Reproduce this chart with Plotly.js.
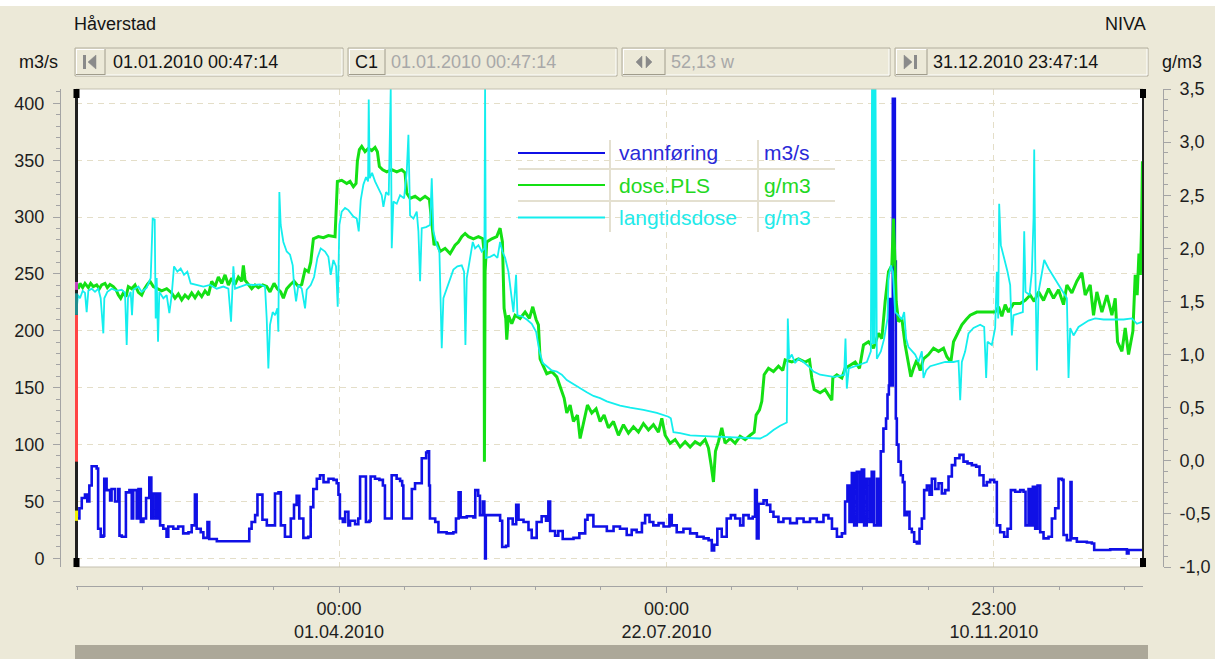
<!DOCTYPE html>
<html><head><meta charset="utf-8">
<script src="https://cdn.plot.ly/plotly-3.0.1.min.js"></script>
<style>html,body{margin:0;padding:0;background:#ECE9D8;}#chart{width:1215px;height:659px;}</style>
</head><body><div id="chart"></div>
<script>
// ---- data: [day of year 2010 (fractional), value] ----
const vannforing = [[0.05,35],[1.2,44],[2.0,53],[3.1,56],[3.9,50],[4.6,64],[5.4,81],[6.5,81],[7.1,79],[7.6,26],[8.5,19],[9.4,20],[9.7,70],[10.5,60],[11.7,51],[12.2,61],[13.4,50],[14.5,61],[14.9,20],[15.7,19],[16.8,19],[17.1,58],[18.3,60],[19.1,35],[19.6,60],[20.8,35],[21.4,61],[22.2,32],[23.1,35],[24.0,53],[25.1,71],[25.8,35],[26.5,57],[27.4,35],[28.1,57],[28.8,29],[29.9,26],[31.0,19],[31.6,28],[33.3,26],[35.0,28],[36.7,22],[38.5,23],[39.6,29],[40.7,56],[41.3,26],[42.7,23],[43.6,18],[45.0,32],[45.6,17],[47.0,17],[48.2,15],[58.4,15],[59.3,26],[60.1,32],[61.3,38],[62.1,56],[63.2,56],[63.8,34],[65.3,29],[67.3,29],[68.1,57],[69.3,58],[70.1,29],[71.5,19],[72.7,19],[73.5,35],[74.6,47],[75.5,55],[76.4,35],[77.8,18],[79.5,19],[80.3,45],[81.2,61],[82.4,70],[83.5,73],[84.7,67],[86.4,70],[88.1,69],[89.2,66],[89.8,56],[90.3,35],[91.3,32],[92.1,41],[93.2,29],
[93.77,33],[95.5,30],[96.6,35],[97.2,72],[98.3,72],[99.2,32],[100.4,33],[100.8,72],[102.3,70],[103.8,69],[105.0,64],[105.7,35],[107.5,35],[108.0,73],[109.7,70],[110.9,68],[111.6,64],[112.0,35],[114.3,35],[114.9,61],[116.0,66],[117.7,66],[118.3,88],[119.8,93],[120.3,94],[120.8,64],[121.1,35],[122.9,32],[124.0,23],[126.8,22],[129.1,23],[130.0,35],[130.9,58],[131.6,36],[133.7,37],[135.96,36],[136.6,60],[137.6,55],[138.2,38],[139.2,50],[139.7,38],[139.96,0],[140.2,38],[141.7,38],[143.9,38],[145.1,33],[145.8,10],[147.1,11],[147.9,35],[149.4,30],[150.6,47],[151.4,34],[153.1,32],[154.8,25],[155.9,18],[157.6,32],[159.3,37],[160.8,33],[161.6,50],[162.2,24],[163.9,20],[165.0,24],[166.5,17],[170.2,18],[172.2,22],[174.2,34],[175.0,38],[177.0,28],[179.3,28],[181.6,24],[183.9,28],[186.1,26],
[186.7,26],[188.4,20.5],[190.1,25],[191.8,23],[193.6,31],[194.7,38],[196.2,32],[197.5,29],[199.3,31],[201.0,28],[203.0,38],[203.8,29],[205.5,23],[207.8,26],[210.1,22],[212.4,19],[214.7,17.6],[216.4,16],[217.5,7],[218.3,12],[219.4,26],[220.9,19],[222.6,35],[224.0,38],[225.5,35],[227.2,29],[228.3,38],[230.1,35],[231.5,36.6],[232.3,60],[232.9,17.6],[233.5,48],[235.2,51],[236.3,47],[237.5,41],[238.6,36.6],[240.3,32],[242.0,35],[244.3,31],[246.6,35],[248.9,32],[251.1,35],[253.4,32],[255.7,38],[257.4,35],[258.6,26],[260.3,19],[262.0,22],[263.1,50],[263.9,64],[264.6,32],[265.4,75],[266.2,29],[267.1,76],[268.0,32],[268.8,78],[269.6,29],[270.5,70],[271.4,32],[272.2,76],[273.0,29],[274.0,70],[274.6,29],[275.3,94],[276.2,114],
[277.1,123],[277.6,144],[278.06,152],[278.28,228],[278.74,211],[279.08,152],[279.42,404],[279.77,404],[280.11,261],[280.45,123],[280.79,100],[281.36,85],[282.16,73],[282.84,67],[283.41,38],[284.21,41],[285.12,26],[285.92,23],[286.72,14.6],[287.63,13],[288.55,26],[289.35,35],[290.14,60],[291.06,64],[291.97,56],[292.77,70],[293.91,61],[295.05,66],[296.19,57],[297.33,60],[298.47,72],[299.61,82],[300.75,88],[302.23,91],[303.6,85],[304.97,83.5],[306.45,82],[307.93,80.6],[309.07,73],[310.44,64],[311.58,67],[312.72,69],[314.09,67],[315.0,29],[316.14,23],[317.51,19],[318.65,26],[319.79,60],[321.28,58.5],[322.99,60],[324.13,58.5],[324.81,29],[325.84,61],[326.63,29],[327.32,63],[328.12,26],[328.92,64],[329.83,23],[330.97,17.6],[332.68,19],[333.82,35],[334.96,44],[336.1,70],[337.24,69],[337.81,20.5],[338.95,16],[339.86,16],[340.2,67],[340.55,17.6],[342.37,14.6],[345.79,14],[347.5,13],[348.3,7.3],[353.78,7.9],[359.48,4.4],[360.05,7.3],[364.95,7.3]];

const dosePLS = [[0.05,1.655],[0.83,1.62],[1.40,1.67],[2.31,1.63],[3.11,1.67],[4.25,1.63],[5.05,1.67],[5.96,1.64],[7.10,1.655],[8.01,1.62],[8.81,1.655],[9.95,1.67],[10.75,1.63],[11.66,1.66],[12.80,1.64],[13.72,1.61],[14.52,1.56],[15.31,1.53],[16.23,1.58],[17.14,1.545],[17.94,1.64],[19.08,1.62],[20.22,1.655],[21.36,1.585],[22.50,1.56],[23.30,1.61],[24.44,1.66],[25.35,1.69],[26.49,1.64],[27.86,1.62],[29.34,1.60],[31.05,1.62],[32.76,1.58],[33.90,1.53],[35.04,1.57],[36.18,1.515],[37.32,1.56],[38.46,1.53],[39.60,1.58],[40.74,1.535],[41.88,1.585],[43.02,1.545],[44.17,1.60],[45.31,1.56],[46.45,1.69],[47.59,1.64],[48.73,1.73],[49.87,1.67],[51.01,1.75],[52.15,1.655],[53.29,1.72],[54.43,1.66],[55.57,1.73],[56.71,1.69],[57.28,1.84],[57.85,1.70],[58.99,1.655],[60.13,1.62],[61.27,1.655],[62.41,1.63],[63.89,1.655],[65.26,1.64],[66.40,1.59],[67.77,1.67],[68.91,1.62],[70.05,1.59],[70.96,1.53],[72.10,1.62],[73.24,1.655],[74.61,1.69],[76.10,1.64],[77.24,1.66],[78.38,1.80],[79.52,1.78],[80.32,1.87],[81.23,2.09],[82.94,2.11],[84.65,2.10],[86.36,2.12],[88.64,2.11],[89.44,2.63],[90.92,2.64],[92.63,2.61],
[93.77,2.63],[94.91,2.58],[95.82,2.61],[96.28,2.82],[96.96,2.93],[97.76,2.96],[98.90,2.91],[100.04,2.94],[101.18,2.92],[102.32,2.95],[103.12,2.91],[103.80,2.77],[104.95,2.74],[106.32,2.72],[108.03,2.74],[109.74,2.72],[111.45,2.74],[112.59,2.71],[113.16,2.52],[114.30,2.47],[116.01,2.49],[117.72,2.455],[119.43,2.49],[120.91,2.46],[121.82,2.22],[122.51,2.03],[123.42,2.06],[124.56,1.97],[126.27,2.00],[127.98,1.95],[129.69,2.03],[130.83,2.06],[131.97,2.11],[133.12,2.14],[134.26,2.11],[135.97,2.09],[137.68,2.11],[139.16,2.09],[139.62,1.97],[139.73,-0.01],[139.96,1.78],[140.53,2.06],[142.24,2.09],[143.95,2.11],[145.09,2.19],[145.89,2.06],[146.46,1.435],[147.03,1.34],[147.37,1.14],[147.94,1.37],[149.08,1.29],[150.22,1.37],[151.93,1.34],[153.64,1.40],[155.12,1.34],[156.26,1.45],[157.40,1.33],[158.20,1.28],[158.77,0.96],[159.68,0.90],[161.05,0.82],[162.76,0.84],[164.48,0.79],[165.62,0.70],[166.99,0.59],[167.90,0.45],[169.04,0.525],[170.18,0.37],[171.55,0.43],[172.46,0.21],[173.60,0.34],[174.97,0.525],[176.45,0.45],[177.93,0.49],[179.30,0.37],[180.67,0.43],[182.15,0.31],[183.86,0.37],[185.57,0.24],
[187.28,0.34],[188.99,0.26],[190.70,0.32],[192.41,0.27],[194.12,0.35],[195.83,0.29],[197.54,0.34],[199.26,0.27],[200.40,0.40],[201.54,0.24],[203.25,0.165],[204.96,0.20],[206.67,0.13],[208.38,0.18],[210.09,0.13],[211.80,0.18],[213.51,0.15],[215.22,0.20],[216.36,0.12],[217.27,-0.04],[218.07,-0.20],[218.76,0.09],[219.78,0.18],[220.92,0.31],[222.06,0.165],[223.77,0.21],[225.48,0.165],[227.19,0.23],[228.91,0.20],[230.62,0.24],[231.99,0.27],[232.67,0.43],[233.81,0.48],[234.61,0.56],[235.41,0.81],[236.89,0.87],[238.60,0.84],[240.31,0.89],[241.79,0.85],[242.59,0.95],[244.87,0.93],[247.15,0.96],[249.43,0.93],[250.91,0.95],[251.71,0.78],[252.51,0.67],[254.56,0.64],[256.27,0.67],[257.99,0.60],[258.56,0.57],[258.90,0.78],[260.27,0.81],[261.98,0.78],[263.12,0.87],[264.83,0.90],[266.54,0.93],[268.02,0.87],[269.39,1.09],[271.10,1.12],[272.81,1.06],[274.52,1.20],[275.66,1.15],[276.80,1.50],[277.94,1.78],
[279.08,1.84],[279.65,2.28],[280.11,1.91],[280.56,1.50],[281.36,1.31],[282.50,1.34],[283.64,1.09],[284.78,0.90],[285.58,0.79],[286.49,0.87],[287.63,0.95],[288.77,0.85],[289.91,0.96],[291.63,1.00],[293.34,1.06],[295.05,1.03],[296.76,1.06],[297.90,0.98],[299.27,0.93],[300.18,1.12],[301.55,1.20],[303.03,1.28],[304.51,1.33],[305.88,1.37],[308.16,1.40],[311.01,1.40],[314.43,1.40],[315.57,1.45],[316.71,1.36],[317.85,1.47],[318.99,1.40],[320.71,1.48],[322.99,1.48],[324.70,1.51],[326.41,1.56],[327.78,1.50],[329.26,1.59],[330.97,1.51],[332.68,1.62],[334.39,1.53],[336.10,1.61],[337.81,1.47],[338.95,1.655],[340.66,1.58],[342.37,1.69],[344.08,1.77],[345.22,1.56],[346.93,1.655],[348.07,1.37],[349.21,1.59],[350.93,1.40],[352.64,1.56],[354.35,1.37],[355.49,1.53],[356.29,1.12],[357.77,1.03],[358.91,1.25],[360.05,1.00],[361.53,1.22],[362.33,1.75],[363.0,1.56],[363.6,1.95],[364.1,1.75],[364.5,2.2],[364.8,2.82],[364.96,2.6]];

const langtidsdose = [[0.05,1.37],[0.72,1.56],[1.40,1.53],[2.31,1.60],[3.11,1.58],[3.68,1.40],[4.25,1.60],[5.39,1.62],[6.53,1.59],[7.67,1.62],[8.47,1.53],[9.04,1.34],[9.38,1.20],[9.72,1.53],[10.75,1.59],[12.23,1.62],[13.95,1.60],[15.66,1.61],[16.80,1.58],[17.37,1.09],[17.82,1.53],[18.74,1.59],[19.19,1.37],[19.65,1.61],[21.36,1.64],[22.50,1.59],[24.21,1.63],[25.58,1.72],[26.26,2.28],[26.95,2.27],[27.29,1.34],[27.63,1.72],[28.09,1.12],[28.54,1.59],[29.91,1.53],[31.05,1.56],[31.96,1.39],[32.76,1.56],[33.56,1.83],[34.70,1.78],[35.84,1.81],[36.98,1.75],[38.12,1.78],[39.26,1.67],[41.31,1.655],[43.60,1.64],[45.88,1.655],[48.16,1.62],[50.44,1.64],[52.15,1.62],[53.06,1.31],[53.52,1.59],[53.86,1.83],[54.43,1.62],[56.14,1.64],[58.42,1.66],[60.70,1.655],[62.98,1.66],[64.69,1.64],[65.26,1.34],[65.83,0.87],[66.40,1.28],[67.31,1.40],[68.11,1.37],[68.91,1.435],[69.25,1.215],[69.59,2.53],[70.05,2.22],[70.96,2.06],[72.10,1.97],[73.24,1.94],[74.16,1.84],[74.61,1.655],[75.30,1.50],[76.10,1.655],[77.24,1.62],[78.38,1.435],[78.95,1.61],[80.32,1.655],[81.46,1.73],[82.60,1.91],[83.74,2.00],[85.22,1.97],[86.36,1.92],[87.16,1.75],[88.07,1.89],[88.98,1.83],[89.55,1.45],[90.12,2.22],[90.92,2.345],[92.06,2.38],[93.20,2.36],
[94.91,2.30],[96.05,2.28],[96.74,2.16],[97.42,2.455],[98.33,2.60],[99.24,2.67],[99.93,2.63],[100.16,3.40],[100.50,2.66],[101.30,2.71],[102.32,2.63],[103.46,2.565],[104.60,2.50],[105.17,2.39],[106.09,2.53],[107.00,2.50],[107.46,3.13],[107.68,3.5],[108.03,2.00],[108.60,2.44],[109.74,2.42],[110.88,2.50],[112.25,2.47],[113.16,2.72],[113.73,3.07],[114.30,2.31],[115.44,2.28],[116.58,2.345],[117.15,2.16],[117.72,1.69],[118.29,2.19],[119.77,2.20],[121.14,2.22],[121.71,2.66],[122.28,2.16],[123.42,2.03],[124.33,1.97],[125.13,1.06],[125.70,1.53],[126.84,1.62],[127.98,1.72],[129.12,1.80],[130.49,1.83],[131.97,1.84],[132.77,1.78],[133.23,1.09],[133.69,1.72],[134.83,1.91],[135.74,2.06],[136.54,2.00],[137.68,2.03],[138.82,1.97],[139.73,2.00],[139.96,3.5],[140.19,1.91],[141.67,1.92],[143.04,1.94],[144.18,1.91],[145.09,2.06],[145.89,1.97],[146.80,1.91],[147.94,1.78],[148.74,1.59],[149.65,1.40],[150.56,1.75],[151.02,1.37],[152.50,1.36],[154.21,1.33],[155.92,1.29],[157.40,1.215],[158.54,1.03],[159.68,0.92],[161.05,0.89],[162.76,0.85],[164.48,0.84],[166.19,0.81],[167.90,0.76],[170.18,0.72],[172.46,0.68],[174.74,0.645],[177.02,0.61],[179.30,0.59],[181.58,0.56],[183.86,0.54],[186.14,0.52],
[189.56,0.50],[194.12,0.48],[198.69,0.45],[202.68,0.415],[203.48,0.40],[204.39,0.27],[206.67,0.26],[210.09,0.24],[216.93,0.23],[223.77,0.22],[230.62,0.21],[234.04,0.21],[236.32,0.24],[238.60,0.29],[240.88,0.33],[243.16,0.36],[243.50,1.34],[243.96,0.96],[244.87,1.00],[246.01,0.92],[247.15,0.96],[248.86,0.93],[250.57,0.89],[252.28,0.84],[254.56,0.81],[256.84,0.80],[259.13,0.79],[261.41,0.80],[262.77,0.81],[263.23,1.15],[263.69,0.68],[264.37,0.87],[266.54,0.89],[268.82,0.91],[270.53,0.93],[271.90,1.03],[272.3,3.5],[272.6,1.1],[272.9,3.5],[273.2,1.1],[273.5,3.5],[273.95,0.96],[275.32,1.03],[276.46,1.15],[277.60,1.34],
[277.94,1.72],[278.74,1.84],[279.42,1.78],[280.22,1.40],[281.36,1.37],[282.50,1.33],[283.30,1.40],[283.98,1.15],[284.78,1.07],[285.92,1.03],[287.06,1.00],[288.20,0.93],[289.35,1.03],[289.91,0.78],[290.83,0.85],[292.20,0.89],[294.48,0.91],[297.33,0.93],[300.18,0.93],[301.89,0.94],[302.46,0.57],[303.03,0.93],[304.17,1.03],[305.31,1.20],[307.02,1.25],[309.30,1.28],[310.67,1.26],[311.35,0.78],[311.81,1.12],[313.29,1.09],[314.43,1.25],[315.00,1.78],[315.46,1.34],[315.80,2.42],[316.37,2.03],[317.51,1.91],[318.65,1.78],[319.56,1.655],[320.13,1.18],[320.71,1.37],[322.42,1.39],[323.90,1.40],[324.36,2.16],[324.81,1.59],[326.18,1.56],[326.98,1.78],[327.55,2.28],[327.78,2.93],[328.12,1.91],[328.69,0.85],[329.26,1.59],[330.40,1.75],[331.20,1.89],[332.68,1.81],[334.39,1.73],[336.10,1.655],[337.81,1.58],[338.95,1.53],[339.52,0.78],[340.09,1.25],[341.23,1.18],[342.94,1.26],[344.65,1.29],[346.36,1.32],[348.64,1.34],[351.50,1.33],[354.92,1.33],[358.34,1.33],[361.19,1.34],[362.90,1.29],[364.95,1.31]];

const seriesNames = ['vannføring','dose.PLS','langtidsdose'];
const seriesUnits = ['m3/s','g/m3','g/m3'];
const majorTickVals = ['2010-04-01 00:00:00','2010-07-22 00:00:00','2010-11-10 23:00:00'];
const majorTickText = ['00:00<br>01.04.2010','00:00<br>22.07.2010','23:00<br>10.11.2010'];
const rightTickVals = [-1,-0.5,0,0.5,1,1.5,2,2.5,3,3.5];
const header = {station:'Håverstad', org:'NIVA', start:'01.01.2010 00:47:14', cursor:'01.01.2010 00:47:14', span:'52,13 w', end:'31.12.2010 23:47:14'};

// ---- build ----
const W=1215,H=659;
const BASE=Date.UTC(2010,0,1), DAY=86400000;
const toDate = d => new Date(BASE + d*DAY).toISOString().slice(0,19).replace('T',' ');
const xs = a => a.map(p=>toDate(p[0])), ys = a => a.map(p=>p[1]);
const px = x => x/W, py = y => 1 - y/H;

const COL = {blue:'#1010e6', green:'#14e014', cyan:'#14eeee'};
const font = 'Liberation Sans, Arial, sans-serif';

const traces = [
  {x:xs(vannforing), y:ys(vannforing), type:'scatter', mode:'lines', yaxis:'y', line:{color:COL.blue,width:2.6,shape:'hv'}, name:seriesNames[0]},
  {x:xs(dosePLS), y:ys(dosePLS), type:'scatter', mode:'lines', yaxis:'y2', line:{color:COL.green,width:3}, name:seriesNames[1]},
  {x:xs(langtidsdose), y:ys(langtidsdose), type:'scatter', mode:'lines', yaxis:'y2', line:{color:COL.cyan,width:1.8}, name:seriesNames[2]}
];

const apr1 = Date.UTC(2010,3,1), step = 22.4*DAY, minorX=[];
for(let k=-4;k<=12;k++){ if(k%5!==0) minorX.push(new Date(apr1+k*step).toISOString().slice(0,19).replace('T',' ')); }

const shapes=[], ann=[];
function rect(x0,y0,x1,y1,fill,lc,lw,layer){shapes.push({type:'rect',xref:'paper',yref:'paper',x0:px(x0),x1:px(x1),y0:py(y1),y1:py(y0),fillcolor:fill||'rgba(0,0,0,0)',line:{color:lc||'rgba(0,0,0,0)',width:lw||0},layer:layer||'above'});}
function seg(x0,y0,x1,y1,c,w,layer){shapes.push({type:'line',xref:'paper',yref:'paper',x0:px(x0),x1:px(x1),y0:py(y0),y1:py(y1),line:{color:c,width:w},layer:layer||'above'});}
function poly(pts,c){shapes.push({type:'path',xref:'paper',yref:'paper',path:'M'+pts.map(p=>px(p[0])+','+py(p[1])).join(' L')+' Z',fillcolor:c,line:{color:c,width:0.5}});}
function txt(x,y,t,opt){opt=opt||{};ann.push({xref:'paper',yref:'paper',x:px(x),y:py(y),text:t,showarrow:false,xanchor:opt.xa||'left',yanchor:'middle',font:{family:font,size:opt.size||18,color:opt.color||'#141414'}});}

rect(0,0,W,6,'#ffffff',null,0,'below');
function box(x0,x1,bw){rect(x0,48,x1,76,'#ECE9D8','#b2ae9e',1,'below');
  seg(x0+1,75,x1-1,75,'#ffffff',1); seg(x1-1,49,x1-1,75,'#ffffff',1);
  rect(x0+1,49,x0+bw,75,'#ECE9D8',null,0);
  seg(x0+1,49.5,x0+bw,49.5,'#ffffff',1); seg(x0+1.5,49,x0+1.5,75,'#ffffff',1);
  seg(x0+1,74.5,x0+bw,74.5,'#a09c8c',1); seg(x0+bw,49,x0+bw,75,'#a09c8c',1);}
box(75,343,30); box(348,617,37); box(622,890,43); box(895,1148,32);
const g='#8a8a8a';
rect(83,55,86,69,g,null,0); poly([[96,55],[96,69],[88,62]],g);
poly([[642,56],[642,68],[636,62]],g); poly([[646,56],[646,68],[652,62]],g);
poly([[904,55],[904,69],[912,62]],g); rect(914,55,917,69,g,null,0);
txt(366.5,62,'C1',{xa:'center'});
txt(72,24,header.station); txt(1148,24,header.org,{xa:'right'});
txt(17,62,seriesUnits[0]); txt(1160,62,seriesUnits[1]);
txt(111,62,header.start); txt(389,62,header.cursor,{color:'#a8a8a8'});
txt(669,62,header.span,{color:'#a8a8a8'}); txt(931,62,header.end);

shapes.push({type:'rect',xref:'x domain',yref:'y domain',x0:0,x1:1,y0:0,y1:1,line:{color:'#c4c0b0',width:1},layer:'above'});
seg(76.5,89,76.5,567,'#202020',3);
shapes.push({type:'line',xref:'paper',yref:'y',x0:px(76.5),x1:px(76.5),y0:85,y1:214,line:{color:'#ff4444',width:3}});
shapes.push({type:'line',xref:'paper',yref:'y',x0:px(76.5),x1:px(76.5),y0:214,y1:233,line:{color:'#208c8c',width:3}});
shapes.push({type:'line',xref:'paper',yref:'y',x0:px(76.5),x1:px(76.5),y0:236,y1:243,line:{color:'#c040c0',width:3}});
shapes.push({type:'line',xref:'paper',yref:'y',x0:px(76.5),x1:px(76.5),y0:33,y1:42,line:{color:'#f0f000',width:3}});
rect(73.5,89,79.5,98,'#000',null,0); rect(73.5,558,79.5,567,'#000',null,0);
seg(1143,89,1143,567,'#202020',2);
rect(1140,89,1146,98,'#000',null,0); rect(1140,558,1146,567,'#000',null,0);

rect(518,140,835,232,'#ffffff',null,0,'between');
const sep='#e4e0d0';
seg(518,169,835,169,sep,2,'between'); seg(518,201,835,201,sep,2,'between');
seg(610,140,610,232,sep,2,'between'); seg(758,140,758,232,sep,2,'between');
const legY=[153,185,217.5], legC=[COL.blue,COL.green,COL.cyan], legT=['#2a2ad8','#22d822','#22eaea'];
for(let i=0;i<3;i++){ seg(518,legY[i],605,legY[i],legC[i],2); txt(617,legY[i],seriesNames[i],{size:21,color:legT[i]}); txt(762,legY[i],seriesUnits[i],{size:21,color:legT[i]}); }

rect(75,645,1148,659,'#aca899',null,0);

const tickFont={family:font,size:18,color:'#1e1e1e'};
const layout={
  width:W,height:H,margin:{l:0,r:0,t:0,b:0,pad:0},
  paper_bgcolor:'#ECE9D8',plot_bgcolor:'#ffffff',showlegend:false,hovermode:false,
  xaxis:{type:'date',domain:[76/W,1143/W],range:['2010-01-01 00:47:14','2010-12-31 23:47:14'],
    anchor:'free',position:py(586),showline:true,linecolor:'#a4a4a4',linewidth:1,
    tickmode:'array',tickvals:majorTickVals,ticktext:majorTickText,ticks:'outside',ticklen:6,tickcolor:'#a4a4a4',
    tickfont:tickFont,ticklabelstandoff:0,showgrid:true,gridcolor:'#e4dec8',griddash:'6px,5px',gridwidth:1,
    minor:{tickmode:'array',tickvals:minorX,ticks:'outside',ticklen:3,tickcolor:'#a4a4a4',showgrid:false},zeroline:false},
  yaxis:{domain:[py(567),py(89)],range:[-7.6,412.6],anchor:'free',position:60/W,side:'left',
    showline:true,linecolor:'#a4a4a4',tickmode:'linear',tick0:0,dtick:50,ticks:'outside',ticklen:7,tickcolor:'#a4a4a4',
    tickfont:tickFont,ticklabelstandoff:5,showgrid:true,gridcolor:'#e4dec8',griddash:'6px,5px',gridwidth:1,zeroline:false,
    minor:{tick0:0,dtick:10,ticks:'outside',ticklen:4,tickcolor:'#a4a4a4',showgrid:false}},
  yaxis2:{overlaying:'y',side:'right',anchor:'free',position:1163/W,range:[-1,3.5],
    showline:true,linecolor:'#a4a4a4',tickmode:'array',tickvals:rightTickVals,ticktext:rightTickVals.map(v=>v.toFixed(1).replace('.',',')),
    ticks:'outside',ticklen:7,tickcolor:'#a4a4a4',tickfont:tickFont,ticklabelstandoff:5,showgrid:false,zeroline:false,
    minor:{tick0:-1,dtick:0.1,ticks:'outside',ticklen:4,tickcolor:'#a4a4a4',showgrid:false}},
  shapes:shapes,annotations:ann
};
Plotly.newPlot('chart',traces,layout,{staticPlot:true,displayModeBar:false});
</script></body></html>
